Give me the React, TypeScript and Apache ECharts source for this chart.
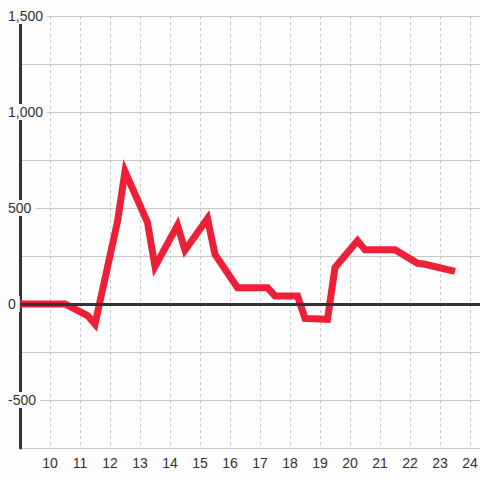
import React, { useEffect, useRef } from "react";
import * as echarts from "echarts";

const hours = [9, 10.5, 11.25, 11.5, 12.25, 12.5, 13.25, 13.5, 14.25, 14.5, 15.25, 15.5, 16.25, 17.25, 17.5, 18.25, 18.5, 19.25, 19.5, 20.25, 20.5, 21.5, 22.25, 22.5, 23.5];
const values = [0, 0, -60, -105, 430, 690, 425, 195, 410, 280, 445, 258, 85, 85, 42, 42, -75, -80, 190, 330, 282, 282, 212, 207, 170];
const yTickLabels = [-500, 0, 500, 1000, 1500];
const xTickLabels = [10, 11, 12, 13, 14, 15, 16, 17, 18, 19, 20, 21, 22, 23, 24];

const BG = "#fcfdfc";
const FONT = "'Liberation Sans', Arial, sans-serif";

export default function App() {
  const ref = useRef<HTMLDivElement>(null);
  useEffect(() => {
    document.body.style.margin = "0";
    const chart = echarts.init(ref.current!, null, { renderer: "svg" });
    chart.setOption({
      animation: false,
      backgroundColor: BG,
      grid: {
        left: 20,
        right: 0,
        top: 16,
        bottom: 32,
        containLabel: false,
        outerBoundsMode: "none",
      },
      xAxis: {
        type: "value",
        min: 9,
        max: 9 + 460 / 30,
        interval: 1,
        axisLine: { show: false, onZero: false },
        axisTick: { show: false },
        axisLabel: {
          color: "#333",
          fontSize: 14,
          fontFamily: FONT,
          margin: 8,
          formatter: (v: number) => (xTickLabels.includes(v) ? String(v) : ""),
        },
        splitLine: {
          show: true,
          showMinLine: false,
          showMaxLine: false,
          lineStyle: { color: "#c8c8c8", width: 1, type: [3, 3] },
        },
      },
      yAxis: {
        type: "value",
        min: -750,
        max: 1500,
        interval: 250,
        axisLine: { show: true, onZero: false, lineStyle: { color: "#333", width: 3 } },
        axisTick: { show: false },
        axisLabel: {
          margin: 14,
          align: "left",
          formatter: (v: number) =>
            yTickLabels.includes(v) ? "{b|" + v.toLocaleString("en-US") + "}" : "",
          rich: {
            b: {
              color: "#333",
              fontSize: 14,
              fontFamily: FONT,
              backgroundColor: BG,
              padding: [1, 4, 1, 2],
            },
          },
        },
        splitLine: { show: true, lineStyle: { color: "#c8c8c8", width: 1 } },
      },
      series: [
        {
          type: "line",
          data: [],
          z: 1,
          silent: true,
          markLine: {
            silent: true,
            symbol: ["none", "none"],
            label: { show: false },
            lineStyle: { color: "#333", width: 3, type: "solid" },
            data: [{ yAxis: 0 }],
          },
        },
        {
          type: "line",
          z: 3,
          data: hours.map((h, i) => [h, values[i]]),
          showSymbol: false,
          symbol: "none",
          lineStyle: { color: "#ee2038", width: 7, join: "miter", cap: "butt" },
        },
      ],
    });
    return () => chart.dispose();
  }, []);
  return (
    <div
      ref={ref}
      style={{ position: "fixed", left: 0, top: 0, width: 480, height: 480 }}
    />
  );
}
